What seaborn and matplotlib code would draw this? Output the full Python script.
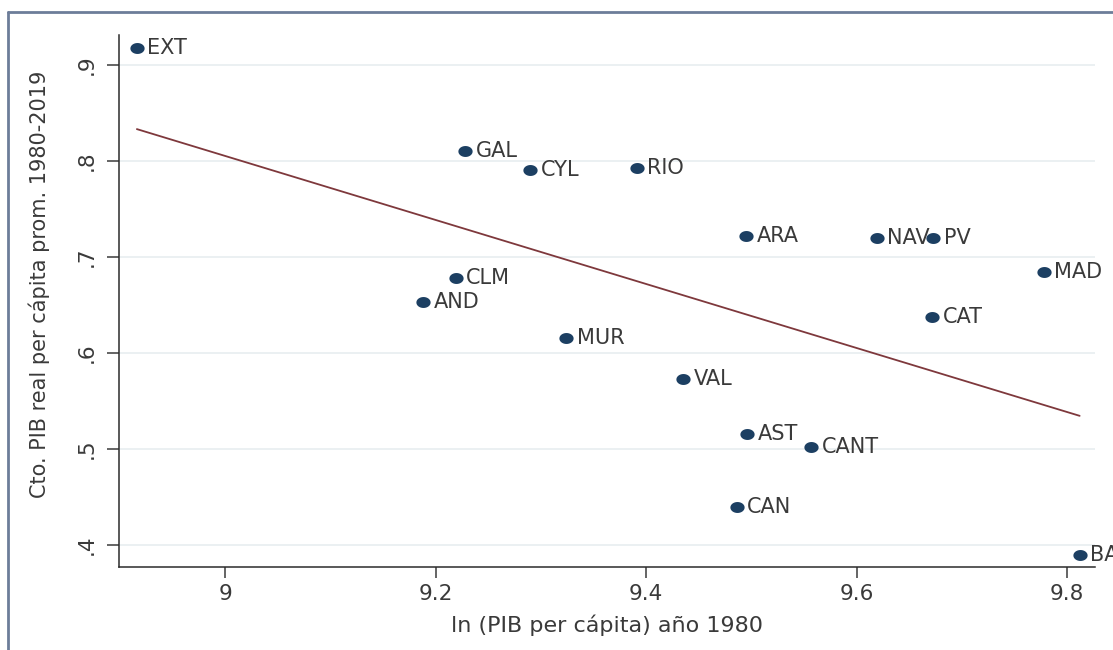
import matplotlib
matplotlib.use("Agg")
import matplotlib.pyplot as plt
from matplotlib.lines import Line2D
from matplotlib.markers import MarkerStyle
from matplotlib.path import Path
import numpy as np
import pandas as pd
import seaborn as sns

# Spanish regions, ln GDP per capita 1980 vs avg real GDP per capita growth
regions = ["EXT", "GAL", "CYL", "RIO", "ARA", "NAV", "PV", "MAD", "CLM",
           "AND", "CAT", "MUR", "VAL", "AST", "CANT", "CAN", "BAL"]
ln_pib_1980 = [8.916, 9.228, 9.290, 9.391, 9.495, 9.619, 9.673, 9.778, 9.219,
               9.188, 9.672, 9.324, 9.435, 9.496, 9.557, 9.486, 9.812]
growth = [0.917, 0.810, 0.790, 0.792, 0.722, 0.720, 0.720, 0.684, 0.678,
          0.653, 0.6375, 0.615, 0.573, 0.516, 0.502, 0.440, 0.390]

x_ticks = [9, 9.2, 9.4, 9.6, 9.8]
x_tick_labels = ["9", "9.2", "9.4", "9.6", "9.8"]
y_ticks = [0.4, 0.5, 0.6, 0.7, 0.8, 0.9]
y_tick_labels = [".4", ".5", ".6", ".7", ".8", ".9"]

DOT = "#1c3f62"
FIT = "#7e383c"
TXT = "#3a3a3a"


def ellipse_marker(stretch=1.3):
    """Slightly wide dot, the reference picture is stretched sideways"""
    t = np.linspace(0, 2 * np.pi, 64)
    verts = np.column_stack([stretch * np.cos(t), np.sin(t)])
    return MarkerStyle(Path(verts, closed=True))


def main():
    df = pd.DataFrame({"region": regions, "lnpib": ln_pib_1980, "cto": growth})

    sns.set_style("white")
    plt.rcParams["font.family"] = ["DejaVu Sans"]

    fig = plt.figure(figsize=(11.13, 6.5), dpi=100)
    ax = fig.add_axes([119 / 1113, 1 - 567 / 650, (1095 - 119) / 1113, (567 - 35) / 650])

    for y in y_ticks:
        ax.axhline(y, color="#e8edf0", lw=1.2, zorder=0)

    sns.regplot(data=df, x="lnpib", y="cto", scatter=False, ci=None,
                color=FIT, line_kws={"lw": 1.3}, ax=ax)
    sns.scatterplot(data=df, x="lnpib", y="cto", marker=ellipse_marker(),
                    s=105, color=DOT, linewidth=0, ax=ax, zorder=3)

    for name, x, y in zip(df["region"], df["lnpib"], df["cto"]):
        ax.annotate(name, (x, y), xytext=(7.5, 0), textcoords="offset points",
                    ha="left", va="center", fontsize=15, color=TXT,
                    annotation_clip=False)

    ax.set_xlim(8.899, 9.8266)
    ax.set_ylim(0.377, 0.931)
    ax.set_xticks(x_ticks, x_tick_labels)
    ax.set_yticks(y_ticks, y_tick_labels)
    ax.tick_params(axis="y", rotation=90, length=9, width=1.1, pad=7,
                   labelsize=15.5, colors=TXT, left=True)
    ax.tick_params(axis="x", length=8, width=1.1, pad=4,
                   labelsize=15.5, colors=TXT, bottom=True)
    for lbl in ax.get_yticklabels():
        lbl.set_va("center")

    sns.despine(ax=ax)
    for side in ["left", "bottom"]:
        ax.spines[side].set_color("#2b2b2b")
        ax.spines[side].set_linewidth(1.1)

    ax.set_xlabel("ln (PIB per cápita) año 1980", fontsize=16, color=TXT,
                  labelpad=8)
    ax.set_ylabel("Cto. PIB real per cápita prom. 1980-2019", fontsize=15,
                  color=TXT)
    ax.yaxis.set_label_coords(-0.071, 0.532)

    # outer frame of the original graph region (cut on right and bottom)
    fx, fy = 8 / 1113, 1 - 12 / 650
    fig.add_artist(Line2D([fx, fx], [0, fy], color="#6d7d99", lw=2))
    fig.add_artist(Line2D([fx, 1], [fy, fy], color="#6d7d99", lw=2))

    fig.savefig("out.png", dpi=100, facecolor="white")


if __name__ == "__main__":
    main()
